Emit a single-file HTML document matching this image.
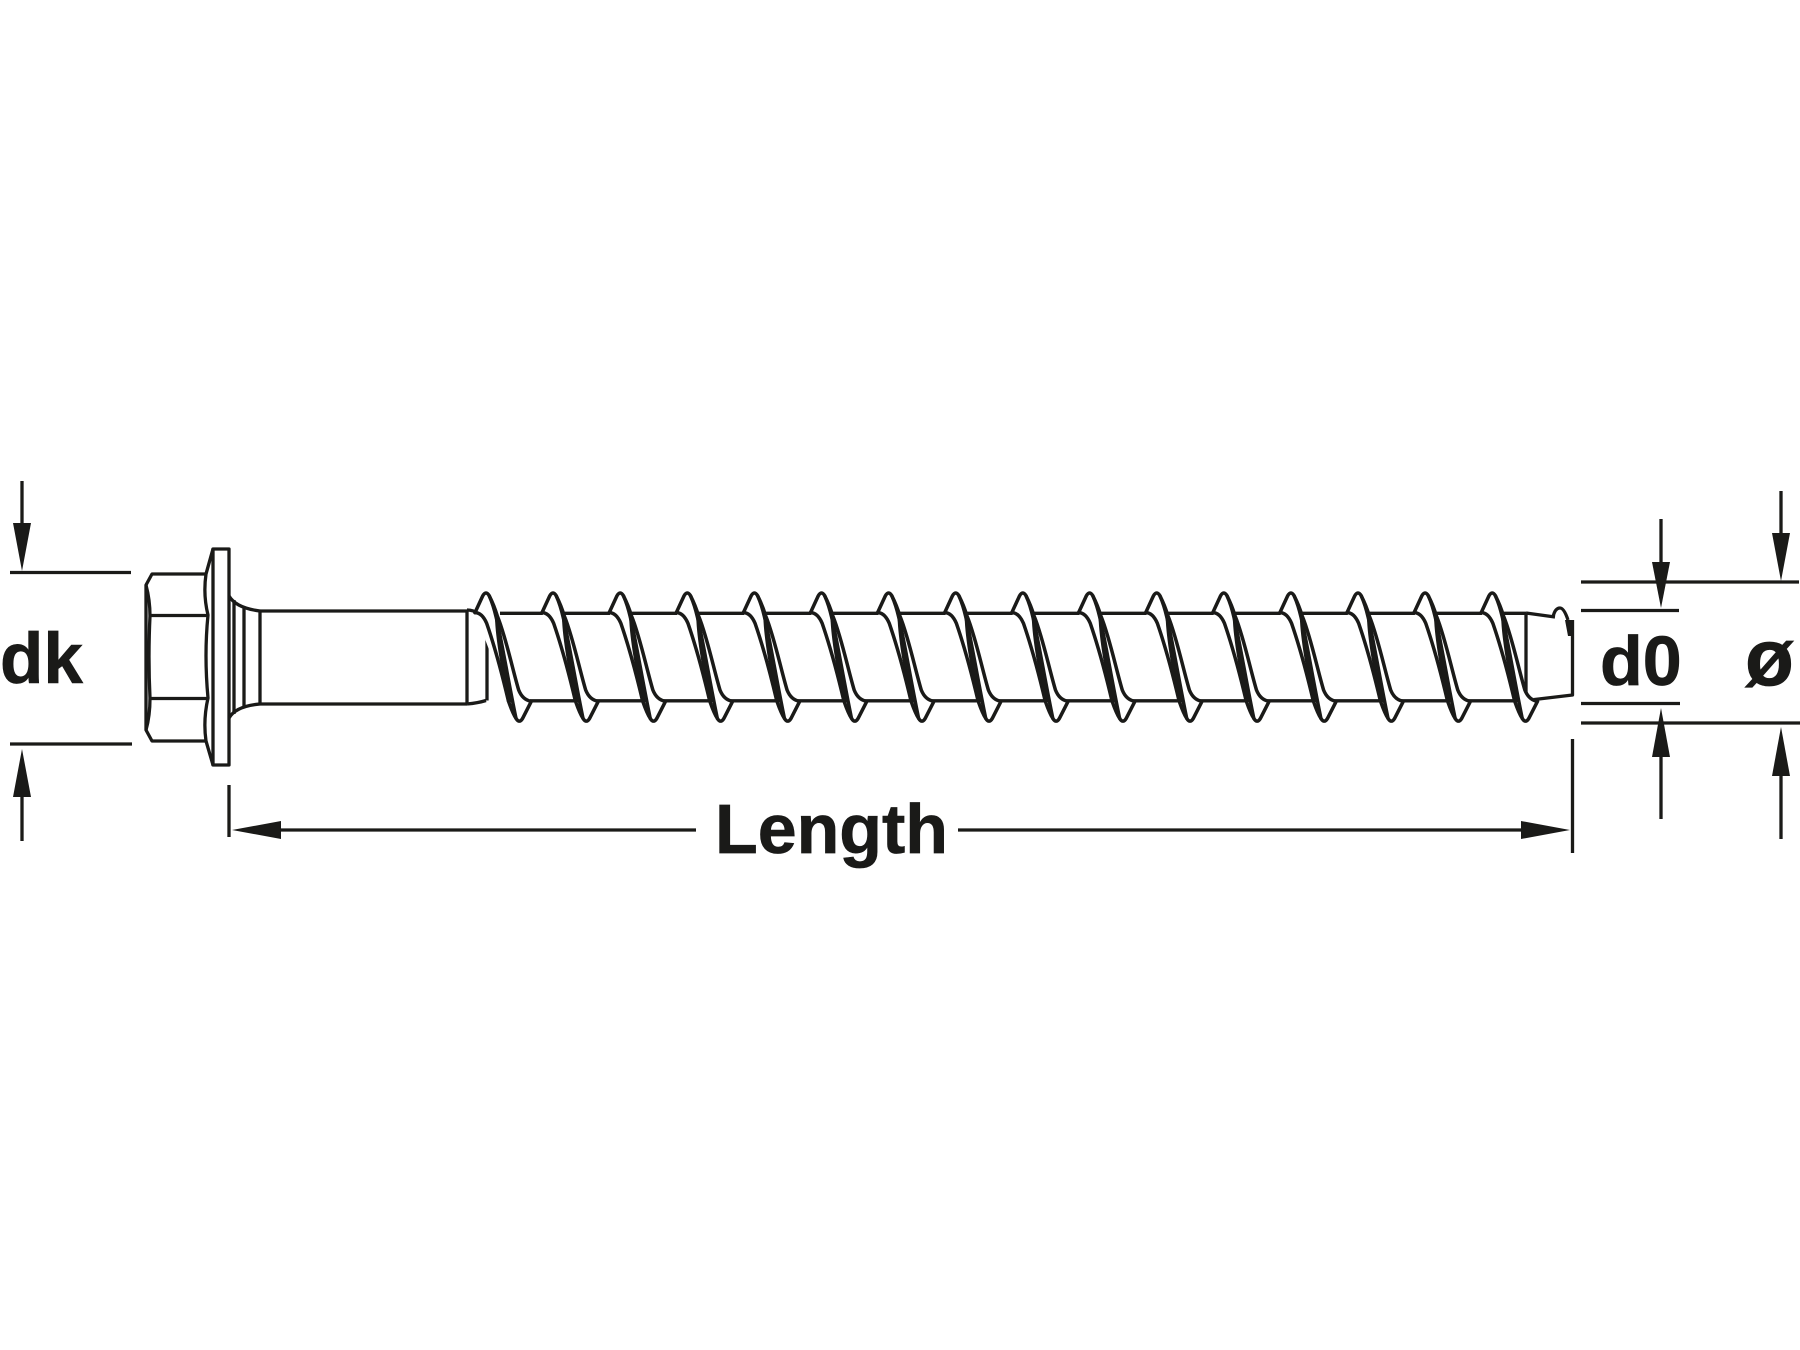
<!DOCTYPE html>
<html>
<head>
<meta charset="utf-8">
<style>
html,body{margin:0;padding:0;background:#fff;width:1800px;height:1350px;overflow:hidden}
svg{display:block}
text{font-family:"Liberation Sans",Arial,sans-serif;font-weight:bold;fill:#1a1a18;stroke:#1a1a18;stroke-width:.7}
</style>
</head>
<body>
<svg width="1800" height="1350" viewBox="0 0 1800 1350" xmlns="http://www.w3.org/2000/svg">
<defs>
<g id="t" fill="none" stroke="#1a1a18" stroke-width="10.5" stroke-linejoin="round" stroke-linecap="round">
  <path fill="#fff" stroke="none" d="M-33 128 L-10 78 Q0 60 10 78 L36 146 L76 256 L101 366 L136 394 L110 445 Q100 462 90 445 L67 392 Z"/>
  <path d="M-33 128 L-10 78 Q0 60 10 78 Q24 105 34 138 C58 195 80 300 98 360 Q110 390 136 394 L110 445 Q100 462 90 445 C80 430 74 412 67 392"/>
  <path d="M-33 128 Q-12 128 2 160 C28 235 50 320 67 392"/>
  <path d="M10 78 Q22 105 30 140 C46 205 66 330 90 445"/>
  <path d="M32 140 C34 210 54 320 72 392"/>
</g>
</defs>
<rect width="1800" height="1350" fill="#fff"/>

<g fill="none" stroke="#1a1a18" stroke-width="3.3" stroke-linecap="butt">
  <path d="M22 481V525M10 572.5H131M10 744H132M22 795V841"/>
  <path d="M229 785V837M281 830H696M958 830H1523M1572.5 739V853"/>
  <path d="M1661 519V564M1781 491V535M1581 582H1799M1581 610.5H1679M1581 703.5H1680M1581 723H1800M1661 755V819M1781 774V839"/>
</g>
<g fill="#1a1a18">
  <path d="M13 523H31L22 571Z"/>
  <path d="M13 797H31L22 749Z"/>
  <path d="M281 821V839L232 830Z"/>
  <path d="M1521 821V839L1570 830Z"/>
  <path d="M1652 562H1670L1661 608Z"/>
  <path d="M1772 533H1790L1781 581Z"/>
  <path d="M1652 757H1670L1661 708Z"/>
  <path d="M1772 776H1790L1781 727Z"/>
</g>

<!-- head and shank -->
<g fill="none" stroke="#1a1a18" stroke-width="3.3" stroke-linejoin="round">
  <path d="M206 574H152L146 585V730L152 741H206"/>
  <path d="M146 585Q150 600 150 616Q148 657 150 698Q150 716 146 730"/>
  <path d="M150 615.5H208M150 698.5H208"/>
  <path d="M213 549H229V765H213Z"/>
  <path d="M213 549L206 574Q203 595 208 615Q204 655 208 698Q203 720 206 741L213 765"/>
  <path d="M229 596Q236 608 260 611M229 718Q236 706 260 704"/>
  <path d="M234 600V714M244 607V708M260 611V704"/>
  <path d="M260 611H467M260 704H467"/>
  <path d="M467 610V704"/>
  <path d="M467 610Q480 610 487 625M467 704Q478 703 486 700.5"/>
  <path d="M487 633V700.5"/>
  <path d="M1526 613V700M1526 613L1555 617M1526 700.5L1572.5 695V620"/>
  <path d="M1553 617Q1555 608 1560 608Q1564 608 1568 620"/>
</g>
<path d="M1565 620L1573 620V636L1568 636Z" fill="#1a1a18"/>

<!-- core lines -->
<g stroke="#1a1a18" stroke-width="3.3" fill="none">
  <path d="M500 613.3H1526"/>
  <path d="M530 700.8H1526"/>
</g>

<!-- threads -->
<g transform="translate(486 570) scale(.3333)"><use href="#t"/></g>
<g transform="translate(553 570) scale(.3333)"><use href="#t"/></g>
<g transform="translate(620.2 570) scale(.3333)"><use href="#t"/></g>
<g transform="translate(687.3 570) scale(.3333)"><use href="#t"/></g>
<g transform="translate(754.4 570) scale(.3333)"><use href="#t"/></g>
<g transform="translate(821.5 570) scale(.3333)"><use href="#t"/></g>
<g transform="translate(888.6 570) scale(.3333)"><use href="#t"/></g>
<g transform="translate(955.7 570) scale(.3333)"><use href="#t"/></g>
<g transform="translate(1022.8 570) scale(.3333)"><use href="#t"/></g>
<g transform="translate(1089.6 570) scale(.3333)"><use href="#t"/></g>
<g transform="translate(1156.7 570) scale(.3333)"><use href="#t"/></g>
<g transform="translate(1223.8 570) scale(.3333)"><use href="#t"/></g>
<g transform="translate(1290.9 570) scale(.3333)"><use href="#t"/></g>
<g transform="translate(1358 570) scale(.3333)"><use href="#t"/></g>
<g transform="translate(1425.1 570) scale(.3333)"><use href="#t"/></g>
<g transform="translate(1492.2 570) scale(.3333)"><use href="#t"/></g>

<text x="0" y="683" font-size="71">dk</text>
<text x="715" y="853" font-size="70" textLength="233" lengthAdjust="spacingAndGlyphs">Length</text>
<text x="1600" y="685" font-size="70">d0</text>
<text x="1745" y="685" font-size="80">ø</text>
</svg>
</body>
</html>
